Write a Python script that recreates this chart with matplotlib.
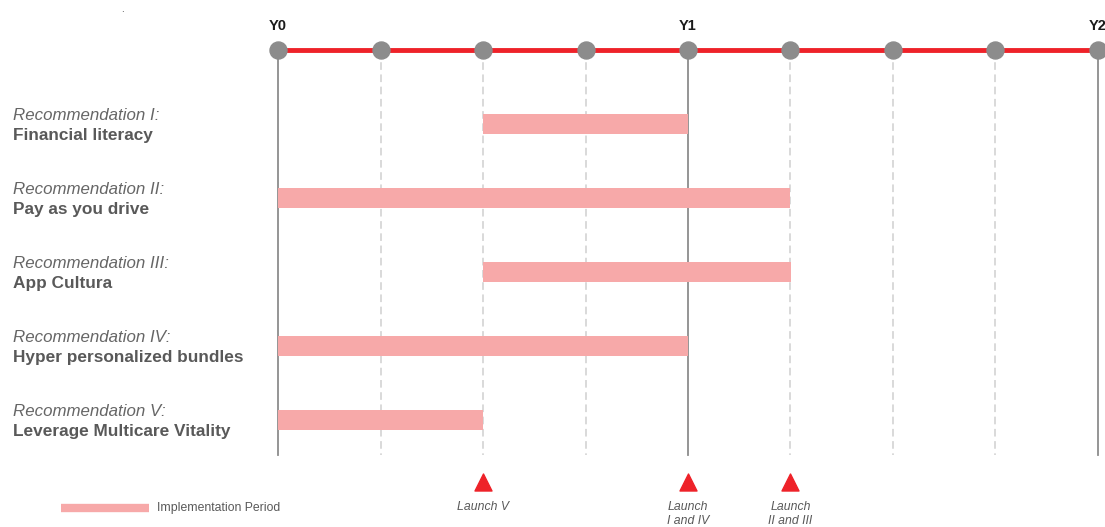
import matplotlib.pyplot as plt
import numpy as np

plt.rcParams['font.family'] = ['Liberation Sans', 'DejaVu Sans']

# data
rec_titles = ["Recommendation I:", "Recommendation II:", "Recommendation III:",
              "Recommendation IV:", "Recommendation V:"]
rec_names = ["Financial literacy", "Pay as you drive", "App Cultura",
             "Hyper personalized bundles", "Leverage Multicare Vitality"]
starts = [2, 0, 2, 0, 0]     # in quarters from Y0
ends = [4, 5, 5, 4, 2]
quarters = np.arange(0, 9)
year_pos = [0, 4, 8]
year_labels = ["Y0", "Y1", "Y2"]
launch_pos = [2, 4, 5]
launch_labels = ["Launch V", "Launch\nI and IV", "Launch\nII and III"]

red = "#EE2229"
bar_col = "#F7A9A9"
grey = "#8C8C8C"
txt = "#595959"

fig = plt.figure(figsize=(11.05, 5.27), dpi=100)
ax = fig.add_axes([0, 0, 1, 1])
ax.set_xlim(-278 / 102.5, (1105 - 278) / 102.5)
ax.set_ylim((527 - 124) / 74, -124 / 74)
ax.axis("off")

top = -1.0
bottom = (455 - 124) / 74

# vertical guide lines
for q in quarters:
    if q in year_pos:
        ax.plot([q, q], [top, bottom], color="#8C8C8C", lw=1.3, zorder=1)
    else:
        ax.plot([q, q], [top, bottom], color="#D0D0D0", lw=1.1, ls=(0, (5, 3)), zorder=1)

# timeline
ax.plot([quarters[0], quarters[-1]], [top, top], color=red, lw=3.5, zorder=2)
ax.scatter(quarters, [top] * len(quarters), s=150, color=grey, zorder=3, clip_on=False)
for p, l in zip(year_pos, year_labels):
    ax.text(p, top - 0.32, l, ha="center", va="center", fontsize=10.5,
            fontweight="bold", color="#1a1a1a")

# bars
rows = np.arange(len(rec_names))
ax.barh(rows, np.array(ends) - np.array(starts), left=starts, height=0.26,
        color=bar_col, zorder=2)

for i in rows:
    ax.text(-2.585, i - 0.115, rec_titles[i], ha="left", va="center", fontsize=12.2,
            style="italic", color="#666666")
    ax.text(-2.585, i + 0.16, rec_names[i], ha="left", va="center", fontsize=12.4,
            fontweight="bold", color=txt)

# launches
tri_y = (482 - 124) / 74
ax.scatter(launch_pos, [tri_y] * len(launch_pos), marker="^", s=150, color=red, zorder=3)
for p, l in zip(launch_pos, launch_labels):
    ax.text(p, tri_y + 0.25, l, ha="center", va="top", fontsize=8.8, style="italic",
            color=txt, linespacing=1.3)

# legend
leg_y = (508 - 124) / 74
ax.plot([(61 - 278) / 102.5, (149 - 278) / 102.5], [leg_y, leg_y], color=bar_col, lw=6,
        solid_capstyle="butt")
ax.text((157 - 278) / 102.5, leg_y, "Implementation Period", ha="left", va="center",
        fontsize=8.8, color=txt)

# stray dot
ax.text((122 - 278) / 102.5, (14 - 124) / 74, ".", ha="center", va="bottom", fontsize=7,
        color="#333333")

fig.savefig("out.png", dpi=100)
